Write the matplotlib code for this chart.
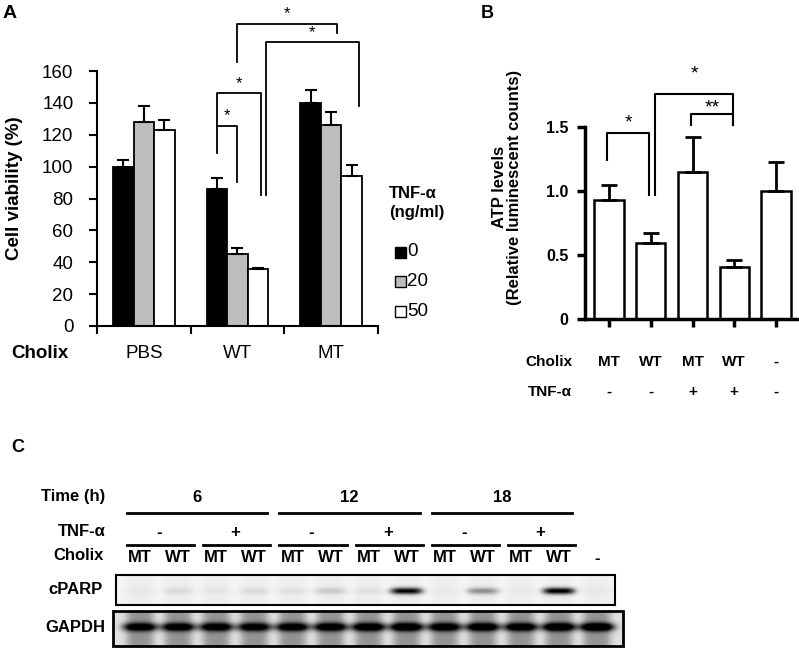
import numpy as np
import matplotlib
matplotlib.use('Agg')
import matplotlib.pyplot as plt
from matplotlib.patches import Rectangle

plt.rcParams['font.family'] = ['Liberation Sans', 'DejaVu Sans']

W, H = 799, 648

# Panel A data: cell viability (%)
grupos_A = ['PBS', 'WT', 'MT']
dosis_A = ['0', '20', '50']
viab_0 = [100, 86, 140]
viab_20 = [128, 45, 126]
viab_50 = [123, 35.5, 94]
err_0 = [4, 7, 8]
err_20 = [10, 4, 8]
err_50 = [6, 1, 7]
colores_A = ['black', '#bdbdbd', 'white']

# Panel B data: ATP levels
cholix_B = ['MT', 'WT', 'MT', 'WT', '-']
tnf_B = ['-', '-', '+', '+', '-']
atp = [0.93, 0.59, 1.15, 0.41, 1.0]
atp_err = [0.12, 0.08, 0.27, 0.05, 0.23]

# Panel C: western blot band intensities per lane
tiempos_C = ['6', '12', '18']
tnf_C = ['-', '+', '-', '+', '-', '+']
cholix_C = ['MT', 'WT', 'MT', 'WT', 'MT', 'WT', 'MT', 'WT', 'MT', 'WT', 'MT', 'WT', '-']
cparp = [0.03, 0.08, 0.04, 0.08, 0.06, 0.15, 0.06, 0.95, 0.02, 0.38, 0.02, 1.0, 0.03]
gapdh = [0.85, 0.85, 0.85, 0.82, 0.85, 0.88, 0.92, 0.95, 0.88, 0.92, 0.88, 0.95, 1.0]

fig = plt.figure(figsize=(W / 100, H / 100), dpi=100)


def caja(x0, y0, x1, y1):
    # pixel box -> figure rect
    return [x0 / W, 1 - y1 / H, (x1 - x0) / W, (y1 - y0) / H]


# ---------------- Panel A ----------------
axA = fig.add_axes(caja(97, 71, 378, 326))
w = 0.22
x = np.arange(len(grupos_A))
for j, (vals, errs) in enumerate([(viab_0, err_0), (viab_20, err_20), (viab_50, err_50)]):
    axA.bar(x + (j - 1) * w, vals, w, color=colores_A[j], edgecolor='black', linewidth=1.3,
            yerr=[[0] * len(errs), errs],
            error_kw=dict(ecolor='black', elinewidth=1.5, capsize=4, capthick=1.5))
axA.set_xlim(-0.5, 2.5)
axA.set_ylim(0, 160)
axA.set_yticks(np.arange(0, 161, 20))
axA.set_xticks([-0.5, 0.5, 1.5, 2.5])
axA.set_xticklabels([])
for s in ['top', 'right']:
    axA.spines[s].set_visible(False)
for s in ['left', 'bottom']:
    axA.spines[s].set_linewidth(1.5)
axA.tick_params(axis='both', direction='out', length=6, width=1.5, labelsize=13.5, pad=11)
for i, g in enumerate(grupos_A):
    axA.text(i, -28 / 255 * 160, g, ha='center', va='center', fontsize=13.5, clip_on=False)


def pos_A(g, d):
    return g + (d - 1) * w


# (grupo/dosis izq, grupo/dosis der, ajuste x izq, ajuste x der, tope, pierna izq, pierna der)
corchetes_A = [
    ((1, 0), (1, 1), 0.0, 0.0, 125.5, 108.6, 90.4),
    ((1, 0), (1, 2), 0.0, 0.03, 146.0, 125.5, 82.0),
    ((1, 2), (2, 2), 0.08, 0.08, 178.0, 82.0, 138.0),
    ((1, 1), (2, 1), 0.0, 0.06, 189.5, 165.7, 184.0),
]
for (a, b, da, db, top, la, lb) in corchetes_A:
    x1 = pos_A(*a) + da
    x2 = pos_A(*b) + db
    axA.plot([x1, x1, x2, x2], [la, top, top, lb], color='black', lw=1.3, clip_on=False)
    axA.text((x1 + x2) / 2, top + 1.5, '*', ha='center', va='bottom', fontsize=12, clip_on=False)

# ---------------- Panel B ----------------
axB = fig.add_axes(caja(585, 127, 797, 319))
xb = np.arange(len(atp))
axB.bar(xb, atp, 0.7, color='white', edgecolor='black', linewidth=1.8,
        yerr=[[0] * len(atp_err), atp_err],
        error_kw=dict(ecolor='black', elinewidth=2, capsize=6, capthick=2))
axB.set_xlim(-0.575, 4.5)
axB.set_ylim(0, 1.5)
axB.set_yticks([0, 0.5, 1.0, 1.5])
axB.set_yticklabels(['0', '0.5', '1.0', '1.5'], fontweight='bold')
axB.set_xticks(xb)
axB.set_xticklabels([])
for s in ['top', 'right']:
    axB.spines[s].set_visible(False)
for s in ['left', 'bottom']:
    axB.spines[s].set_linewidth(2.5)
axB.tick_params(axis='both', direction='out', length=6, width=2.5, labelsize=11.5, pad=6)

# (barra izq, barra der, ajuste izq, ajuste der, tope, pierna izq, pierna der, texto, dy)
corchetes_B = [
    (0, 1, -0.05, -0.04, 1.453, 1.242, 0.969, '*', 0.01),
    (1, 3, 0.10, -0.03, 1.758, 0.969, 1.516, '*', 0.09),
    (2, 3, -0.04, -0.03, 1.600, 1.516, 1.516, '**', -0.02),
]
for (a, b, da, db, top, la, lb, txt, dy) in corchetes_B:
    x1 = a + da
    x2 = b + db
    axB.plot([x1, x1, x2, x2], [la, top, top, lb], color='black', lw=1.5, clip_on=False)
    axB.text((x1 + x2) / 2, top + dy, txt, ha='center', va='bottom', fontsize=14, clip_on=False)

# ---------------- overlay en pixeles ----------------
axO = fig.add_axes([0, 0, 1, 1])
axO.set_xlim(0, W)
axO.set_ylim(H, 0)
axO.axis('off')
axO.patch.set_alpha(0)

bold = dict(fontweight='bold')
axO.text(3, 14, 'A', fontsize=14, va='center', ha='left', **bold)
axO.text(481, 13, 'B', fontsize=13, va='center', ha='left', **bold)
axO.text(11, 447, 'C', fontsize=13, va='center', ha='left', **bold)

# Panel A labels
axO.text(15, 188, 'Cell viability (%)', rotation=90, fontsize=13.5, ha='center', va='center', **bold)
axO.text(11, 353, 'Cholix', fontsize=13.5, ha='left', va='center', **bold)
axO.text(389, 194, 'TNF-α', fontsize=12, ha='left', va='center', **bold)
axO.text(389, 212, '(ng/ml)', fontsize=12, ha='left', va='center', **bold)
for k, (d, c) in enumerate(zip(dosis_A, colores_A)):
    yc = 252 + k * 29.5
    axO.add_patch(Rectangle((395, yc - 5.5), 11, 11, facecolor=c, edgecolor='black', lw=1.0))
    axO.text(407, yc, d, fontsize=13.5, ha='left', va='center')

# Panel B labels
axO.text(507, 187, 'ATP levels\n(Relative luminescent counts)', rotation=90, fontsize=12,
         ha='center', va='center', multialignment='center', linespacing=1.05, **bold)
axO.text(572, 362, 'Cholix', fontsize=11, ha='right', va='center', **bold)
axO.text(572, 392, 'TNF-α', fontsize=11, ha='right', va='center', **bold)
xtB = [609 + 41.75 * i for i in range(len(atp))]
for xp, c, t in zip(xtB, cholix_B, tnf_B):
    axO.text(xp, 362, c, fontsize=11, ha='center', va='center', **bold)
    axO.text(xp, 392, t, fontsize=11, ha='center', va='center', **bold)

# ---------------- Panel C ----------------
carril0, dcarril = 140, 38.1
carriles = carril0 + dcarril * np.arange(len(cholix_C))

axO.text(105, 497, 'Time (h)', fontsize=12, ha='right', va='center', **bold)
axO.text(106, 532, 'TNF-α', fontsize=12, ha='right', va='center', **bold)
axO.text(104, 555, 'Cholix', fontsize=12, ha='right', va='center', **bold)
axO.text(103, 590, 'cPARP', fontsize=12, ha='right', va='center', **bold)
axO.text(105, 628, 'GAPDH', fontsize=12, ha='right', va='center', **bold)

for g, t in enumerate(tiempos_C):
    xa, xb2 = carriles[4 * g], carriles[4 * g + 3]
    axO.text((xa + xb2) / 2, 497, t, fontsize=12, ha='center', va='center', **bold)
    axO.plot([xa - 13, xb2 + 13], [513, 513], color='black', lw=2)
for p, t in enumerate(tnf_C):
    xa, xb2 = carriles[2 * p], carriles[2 * p + 1]
    axO.text((xa + xb2) / 2, 532, t, fontsize=12, ha='center', va='center', **bold)
    axO.plot([xa - 13, xb2 + 16], [545, 545], color='black', lw=2)
for xc, c in zip(carriles, cholix_C):
    axO.text(xc, 558, c, fontsize=12, ha='center', va='center', **bold)


def blot(niveles, x0, y0, x1, y1, yb, sy, ancho, fondo_carril, fondo_hueco):
    xs = np.linspace(x0, x1, int((x1 - x0) * 2))
    ys = np.linspace(y0, y1, int((y1 - y0) * 2))
    mascara = np.zeros_like(xs)
    img = np.zeros((len(ys), len(xs)))
    perfil_y = np.exp(-((ys - yb) / sy) ** 2)
    for xc, v in zip(carriles, niveles):
        mascara += np.exp(-((xs - xc) / 14.0) ** 4)
        img += v * np.outer(perfil_y, np.exp(-((xs - xc) / ancho) ** 4))
    mascara = np.clip(mascara, 0, 1)
    img += fondo_hueco + (fondo_carril - fondo_hueco) * mascara[None, :]
    return np.clip(img, 0, 1)


img_c = blot(cparp, 116, 575, 615, 605, 591, 3.3, 16, 0.07, 0.04)
axO.imshow(img_c, cmap='gray_r', vmin=0, vmax=1, extent=(116, 615, 605, 575),
           aspect='auto', interpolation='bilinear')
axO.add_patch(Rectangle((116, 575), 499, 30, fill=False, edgecolor='black', lw=1.5))

img_g = blot(gapdh, 113, 611, 623, 646, 627, 4.2, 18, 0.42, 0.12)
axO.imshow(img_g, cmap='gray_r', vmin=0, vmax=1, extent=(113, 623, 646, 611),
           aspect='auto', interpolation='bilinear')
axO.add_patch(Rectangle((113, 611), 510, 35, fill=False, edgecolor='black', lw=2))
axO.set_xlim(0, W)
axO.set_ylim(H, 0)

plt.savefig('out.png', dpi=100)
plt.close()
